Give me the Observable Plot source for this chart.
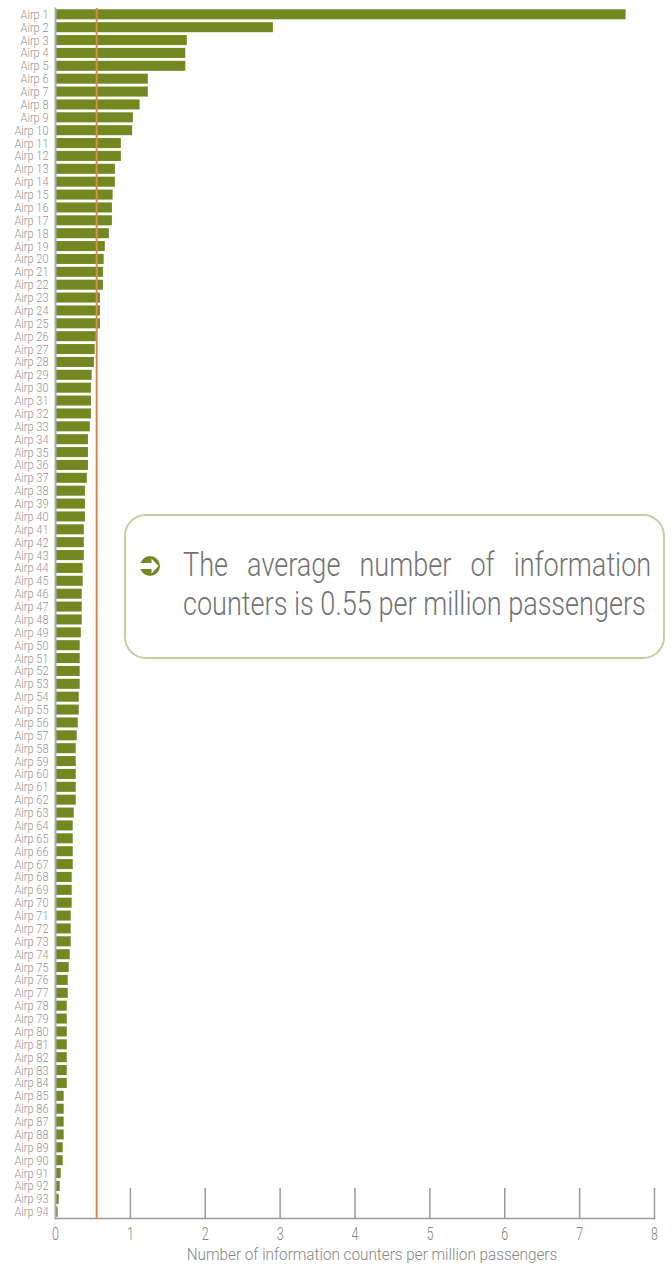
<!DOCTYPE html>
<html>
<head>
<meta charset="utf-8">
<script src="https://cdn.jsdelivr.net/npm/d3@7"></script>
<script src="https://cdn.jsdelivr.net/npm/@observablehq/plot@0.6"></script>
<style>
  body { margin: 0; background: #fff; }
  #wrap { position: relative; width: 672px; height: 1269px; }
  .callout { position: absolute; left: 124px; top: 514px; width: 541px; height: 145px; box-sizing: border-box;
    border: 2.5px solid #c7cd9e; border-radius: 22px; background: #fff; }
  .callout svg { position: absolute; left: 13px; top: 39px; }
  .callout .txt { position: absolute; left: 57px; top: 29px; width: 571px; margin: 0;
    transform: scaleX(0.82); transform-origin: 0 0;
    font-family: Roboto, "Open Sans", sans-serif; font-weight: 300;
    font-size: 33px; line-height: 39px; color: #737373; }
  .callout .l1 { text-align: justify; text-align-last: justify; white-space: nowrap; }
  .callout .l2 { text-align: left; white-space: nowrap; }
</style>
</head>
<body>
<div id="wrap"></div>
<script>
const airports = ["Airp 1","Airp 2","Airp 3","Airp 4","Airp 5","Airp 6","Airp 7","Airp 8","Airp 9","Airp 10",
  "Airp 11","Airp 12","Airp 13","Airp 14","Airp 15","Airp 16","Airp 17","Airp 18","Airp 19","Airp 20",
  "Airp 21","Airp 22","Airp 23","Airp 24","Airp 25","Airp 26","Airp 27","Airp 28","Airp 29","Airp 30",
  "Airp 31","Airp 32","Airp 33","Airp 34","Airp 35","Airp 36","Airp 37","Airp 38","Airp 39","Airp 40",
  "Airp 41","Airp 42","Airp 43","Airp 44","Airp 45","Airp 46","Airp 47","Airp 48","Airp 49","Airp 50",
  "Airp 51","Airp 52","Airp 53","Airp 54","Airp 55","Airp 56","Airp 57","Airp 58","Airp 59","Airp 60",
  "Airp 61","Airp 62","Airp 63","Airp 64","Airp 65","Airp 66","Airp 67","Airp 68","Airp 69","Airp 70",
  "Airp 71","Airp 72","Airp 73","Airp 74","Airp 75","Airp 76","Airp 77","Airp 78","Airp 79","Airp 80",
  "Airp 81","Airp 82","Airp 83","Airp 84","Airp 85","Airp 86","Airp 87","Airp 88","Airp 89","Airp 90",
  "Airp 91","Airp 92","Airp 93","Airp 94"];

const counters = [7.62, 2.91, 1.76, 1.74, 1.74, 1.24, 1.24, 1.13, 1.04, 1.03,
  0.88, 0.88, 0.80, 0.80, 0.77, 0.76, 0.76, 0.72, 0.665, 0.65,
  0.64, 0.64, 0.60, 0.60, 0.60, 0.545, 0.53, 0.52, 0.49, 0.48,
  0.48, 0.48, 0.465, 0.44, 0.44, 0.44, 0.425, 0.40, 0.40, 0.40,
  0.385, 0.385, 0.385, 0.37, 0.37, 0.357, 0.357, 0.357, 0.345, 0.33,
  0.33, 0.33, 0.33, 0.317, 0.317, 0.304, 0.29, 0.277, 0.277, 0.277,
  0.277, 0.277, 0.25, 0.237, 0.237, 0.237, 0.237, 0.223, 0.223, 0.223,
  0.21, 0.21, 0.21, 0.197, 0.183, 0.17, 0.17, 0.157, 0.157, 0.157,
  0.157, 0.157, 0.157, 0.157, 0.116, 0.116, 0.116, 0.116, 0.103, 0.103,
  0.076, 0.063, 0.05, 0.036];

const average = 0.55;
const xTicks = [0, 1, 2, 3, 4, 5, 6, 7, 8];
const xTitle = "Number of information counters per million passengers";
const calloutLines = ["The average number of information", "counters is 0.55 per million passengers"];

const data = airports.map((name, i) => ({name, value: counters[i]}));
const font = 'Roboto, "Open Sans", sans-serif';

const chart = Plot.plot({
  width: 672,
  height: 1269,
  marginLeft: 55,
  marginRight: 18,
  marginTop: 8,
  marginBottom: 51,
  style: {fontFamily: font, fontWeight: 300, background: "#fff"},
  x: {domain: [0, 8]},
  y: {domain: airports, paddingInner: 0.22, paddingOuter: 0.1},
  marks: [
    Plot.barX(data, {x: "value", y: "name", fill: "#748822"}),
    Plot.ruleX(xTicks.filter(d => d > 0), {x: d => d, stroke: "#9a9a9a", strokeWidth: 1.5, insetTop: 1180}),
    Plot.frame({anchor: "bottom", stroke: "#9a9a9a", strokeWidth: 1.5}),
    Plot.frame({anchor: "left", stroke: "#aaacb8", strokeWidth: 2}),
    Plot.ruleX([average], {x: d => d, stroke: "#d4904a", strokeWidth: 2}),
    Plot.axisY({tickSize: 0, tickPadding: 7, fontSize: 12.5, color: "#959595", label: null}),
    Plot.axisX({ticks: xTicks, tickSize: 0, tickPadding: 9, fontSize: 18, color: "#858585", label: null, tickFormat: d => d}),
    Plot.text([xTitle], {text: d => d, frameAnchor: "bottom", dy: 41, dx: 17, fontSize: 17, fill: "#858585"})
  ]
});

// Condense the SVG text horizontally to mimic the narrow typeface of the original
function squeeze(selector, k) {
  chart.querySelectorAll(selector).forEach(t => {
    let tr = t.getAttribute("transform");
    if (!tr) {
      const x = +(t.getAttribute("x") || 0), y = +(t.getAttribute("y") || 0);
      t.removeAttribute("x"); t.removeAttribute("y");
      tr = `translate(${x},${y})`;
    }
    t.setAttribute("transform", tr + ` scale(${k},1)`);
  });
}
squeeze('g[aria-label="y-axis tick label"] text', 0.88);
squeeze('g[aria-label="x-axis tick label"] text', 0.7);
squeeze('g[aria-label="text"] text', 0.9);

const wrap = document.getElementById("wrap");
wrap.appendChild(chart);

const box = document.createElement("div");
box.className = "callout";
box.innerHTML = '<svg width="22" height="22" viewBox="-11 -11 22 22">' +
  '<circle r="10" fill="#748822"/>' +
  '<path d="M-10,-3 L1.5,-3 L1.5,-7.5 L8.5,0 L1.5,7.5 L1.5,3 L-10,3 Z" fill="#fff"/>' +
  '</svg>';
const txt = document.createElement("div");
txt.className = "txt";
const l1 = document.createElement("div");
l1.className = "l1";
l1.textContent = calloutLines[0];
const l2 = document.createElement("div");
l2.className = "l2";
l2.textContent = calloutLines[1];
txt.appendChild(l1);
txt.appendChild(l2);
box.appendChild(txt);
wrap.appendChild(box);
</script>
</body>
</html>
